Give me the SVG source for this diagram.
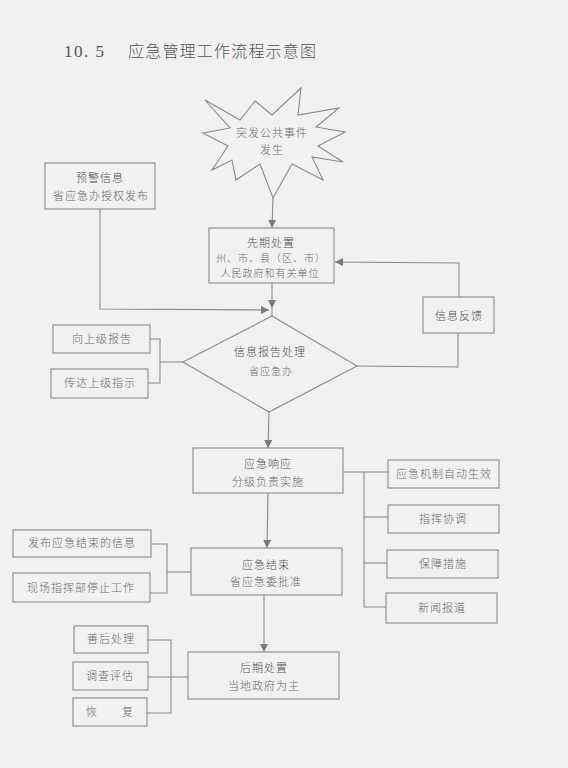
<svg xmlns="http://www.w3.org/2000/svg" width="568" height="768" viewBox="0 0 568 768">
<defs>
<marker id="ah" viewBox="0 0 10 10" refX="10" refY="5" markerWidth="8" markerHeight="8" markerUnits="userSpaceOnUse" orient="auto">
<path d="M0,0 L10,5 L0,10 Z" fill="#7a7a7a"/>
</marker>
<style>
.bg{fill:#f1f1ef}
.box{fill:none;stroke:#8a8a8a;stroke-width:1.1}
.ln{fill:none;stroke:#8a8a8a;stroke-width:1.1}
.t{font-family:"Noto Sans CJK SC","Noto Sans CJK JP",sans-serif;font-size:11px;fill:#6a6a6a;text-anchor:middle;letter-spacing:1px;font-weight:300}
.h{fill:#505050}
.title{font-family:"Noto Sans CJK SC",sans-serif;font-size:16px;fill:#555;letter-spacing:1.2px;font-weight:300}
.num{font-family:"Liberation Serif",serif;font-size:17px;fill:#555;letter-spacing:1.5px}
</style>
</defs>
<rect class="bg" x="0" y="0" width="568" height="768"/>
<g id="title">
<text x="64" y="57"><tspan class="num">10. 5</tspan><tspan class="title" x="128">应急管理工作流程示意图</tspan></text>
</g>
<g id="connectors">
<path class="ln" d="M273,198 L272,228" marker-end="url(#ah)"/>
<path class="ln" d="M272,283 L272,308 L272,316" marker-mid="url(#ah)"/>
<path class="ln" d="M100,209 L100,309 L269,310" marker-end="url(#ah)"/>
<path class="ln" d="M357,366 L458,367 L458,333"/>
<path class="ln" d="M459,297 L459,263 L335,262" marker-end="url(#ah)"/>
<path class="ln" d="M150,339 H160 V383 H148"/>
<path class="ln" d="M160,362 H183"/>
<path class="ln" d="M269,412 L268,448" marker-end="url(#ah)"/>
<path class="ln" d="M268,493 L267,548" marker-end="url(#ah)"/>
<path class="ln" d="M343,472 H388"/>
<path class="ln" d="M364,472 V607 H386"/>
<path class="ln" d="M364,517 H388"/>
<path class="ln" d="M364,563 H387"/>
<path class="ln" d="M151,544 H167 V593 H150"/>
<path class="ln" d="M167,572 H191"/>
<path class="ln" d="M264,595 L264,652" marker-end="url(#ah)"/>
<path class="ln" d="M148,640 H171 V713 H147"/>
<path class="ln" d="M148,677 H188"/>
</g>
<g id="n-start">
<polygon class="box" points="205,100 240,120 255,101 272,115 301,88 298,115 339,108 316,127 345,132 318,146 343,162 312,157 323,180 292,164 273,198 260,164 236,180 232,160 212,170 228,146 203,133 230,128"/>
<text class="t" x="272" y="137">突发公共事件</text>
<text class="t" x="272" y="154">发生</text>
</g>
<g id="n-warning">
<rect class="box" x="45" y="163" width="110" height="46"/>
<text class="t h" x="100" y="182">预警信息</text>
<text class="t" x="101" y="200">省应急办授权发布</text>
</g>
<g id="n-initial">
<rect class="box" x="209" y="228" width="125" height="55"/>
<text class="t h" x="271" y="247">先期处置</text>
<text class="t" x="271" y="262" style="font-size:10px">州、市、县（区、市）</text>
<text class="t" x="270" y="277" style="font-size:10px">人民政府和有关单位</text>
</g>
<g id="n-feedback">
<rect class="box" x="423" y="297" width="71" height="36"/>
<text class="t h" x="459" y="320">信息反馈</text>
</g>
<g id="n-report-up">
<rect class="box" x="53" y="325" width="97" height="28"/>
<text class="t" x="102" y="343">向上级报告</text>
</g>
<g id="n-relay">
<rect class="box" x="51" y="369" width="97" height="29"/>
<text class="t" x="100" y="387">传达上级指示</text>
</g>
<g id="n-info">
<polygon class="box" points="272,316 357,366 269,412 183,362"/>
<text class="t h" x="270" y="356">信息报告处理</text>
<text class="t" x="271" y="375" style="font-size:10px">省应急办</text>
</g>
<g id="n-response">
<rect class="box" x="193" y="448" width="150" height="45"/>
<text class="t h" x="268" y="468">应急响应</text>
<text class="t" x="268" y="486">分级负责实施</text>
</g>
<g id="n-auto">
<rect class="box" x="388" y="460" width="111" height="28"/>
<text class="t" x="444" y="478">应急机制自动生效</text>
</g>
<g id="n-command">
<rect class="box" x="388" y="505" width="111" height="28"/>
<text class="t" x="443" y="523">指挥协调</text>
</g>
<g id="n-support">
<rect class="box" x="387" y="550" width="111" height="28"/>
<text class="t" x="443" y="568">保障措施</text>
</g>
<g id="n-news">
<rect class="box" x="386" y="593" width="111" height="30"/>
<text class="t" x="442" y="612">新闻报道</text>
</g>
<g id="n-publish">
<rect class="box" x="13" y="530" width="138" height="27"/>
<text class="t" x="82" y="547">发布应急结束的信息</text>
</g>
<g id="n-stop">
<rect class="box" x="13" y="573" width="137" height="29"/>
<text class="t" x="81" y="592">现场指挥部停止工作</text>
</g>
<g id="n-end">
<rect class="box" x="191" y="548" width="151" height="47"/>
<text class="t h" x="266" y="569">应急结束</text>
<text class="t" x="266" y="586">省应急委批准</text>
</g>
<g id="n-aftermath">
<rect class="box" x="74" y="626" width="74" height="27"/>
<text class="t" x="111" y="643">善后处理</text>
</g>
<g id="n-survey">
<rect class="box" x="73" y="662" width="75" height="28"/>
<text class="t" x="110" y="680">调查评估</text>
</g>
<g id="n-recover">
<rect class="box" x="73" y="698" width="74" height="28"/>
<text class="t" x="110" y="716">恢　　复</text>
</g>
<g id="n-later">
<rect class="box" x="188" y="652" width="151" height="47"/>
<text class="t h" x="264" y="672">后期处置</text>
<text class="t" x="264" y="690">当地政府为主</text>
</g>
</svg>
